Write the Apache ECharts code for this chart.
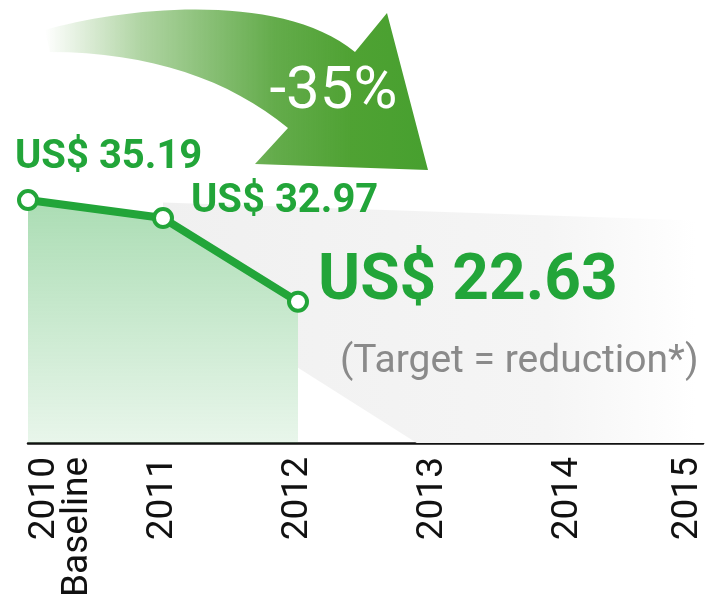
<!DOCTYPE html>
<html>
<head>
<meta charset="utf-8">
<script src="https://cdn.jsdelivr.net/npm/echarts@6/dist/echarts.min.js"></script>
<style>
  html, body { margin: 0; padding: 0; background: #ffffff; }
  #main { width: 712px; height: 596px; }
</style>
</head>
<body>
<div id="main"></div>
<script>
// data
var years = ['2010\nBaseline', '2011', '2012', '2013', '2014', '2015'];
var costs = [35.19, 32.97, 22.63];
var changeText = '-35%';
var targetNote = '(Target = reduction*)';
// grey target wedge, given as (category index, value) pairs
var shadeX = [1, 5.07, 5.07, 2.88, 2, 2, 1];
var shadeY = [34.9, 32.6, 5.2, 5.2, 14.5, 22.63, 32.97];

var green = '#22a539';
var labelLook = [
  { fontSize: 40, offset: [-13, -42] },
  { fontSize: 40, offset: [28, -16] },
  { fontSize: 64, offset: [20, -19] }
];
// the big decorative arrow, in pixels
var arrowPath = 'M45 30 C120 8 280 -10 355 52 L387 13 L428 170 L255 164 L288 128 C230 80 150 52 50 52 Z';

function linear(x2, y2, stops) {
  return { type: 'linear', x: 0, y: 0, x2: x2, y2: y2, colorStops: stops, global: false };
}

var chartDom = document.getElementById('main');
var myChart = echarts.init(chartDom);

var xData = years.map(function (y, i) {
  if (i === 0) {
    return { value: y, textStyle: { verticalAlign: 'top', lineHeight: 33 } };
  }
  if (i === years.length - 1) {
    return { value: y, textStyle: { verticalAlign: 'bottom', lineHeight: 30 } };
  }
  return y;
});

var lineData = costs.map(function (v, i) {
  return {
    value: v,
    label: {
      show: true,
      position: 'inside',
      align: 'left',
      verticalAlign: 'middle',
      formatter: 'US$ ' + v.toFixed(2),
      fontFamily: 'Roboto',
      fontWeight: 'bold',
      fontSize: labelLook[i].fontSize,
      offset: labelLook[i].offset,
      color: green,
      textBorderWidth: 0
    }
  };
});

var option = {
  animation: false,
  grid: { left: 28, right: 9, top: 38, bottom: 153, containLabel: false, outerBoundsMode: 'none' },
  xAxis: {
    type: 'category',
    boundaryGap: false,
    data: xData,
    axisLine: { show: true, lineStyle: { color: '#111', width: 2.5 } },
    axisTick: { show: false },
    splitLine: { show: false },
    axisLabel: {
      interval: 0,
      rotate: 90,
      margin: 14,
      hideOverlap: false,
      fontFamily: 'Roboto',
      fontSize: 37,
      color: '#111'
    }
  },
  yAxis: {
    type: 'value',
    min: 5.2,
    max: 55.2,
    show: false
  },
  graphic: [
    {
      type: 'text',
      z: 60,
      x: 333.5,
      y: 92.5,
      style: {
        text: changeText,
        fontFamily: 'Roboto',
        fontSize: 60,
        fill: '#ffffff',
        align: 'center',
        verticalAlign: 'middle'
      }
    },
    {
      type: 'text',
      z: 60,
      x: 340,
      y: 362,
      style: {
        text: targetNote,
        fontFamily: 'Roboto',
        fontSize: 39,
        fill: '#8a8a8a',
        align: 'left',
        verticalAlign: 'middle'
      }
    }
  ],
  series: [
    {
      // grey target wedge
      type: 'custom',
      z: 1,
      silent: true,
      clip: false,
      data: [0],
      renderItem: function (params, api) {
        var step = api.size([1, 0])[0];
        var x0 = api.coord([0, shadeY[0]])[0];
        var pts = shadeX.map(function (x, i) {
          return [x0 + x * step, api.coord([0, shadeY[i]])[1]];
        });
        return {
          type: 'polygon',
          shape: { points: pts },
          style: {
            fill: linear(1, 0, [
              { offset: 0, color: '#f0f0f0' },
              { offset: 0.7, color: '#f5f5f5' },
              { offset: 0.97, color: '#ffffff' }
            ])
          }
        };
      }
    },
    {
      // arrow
      type: 'custom',
      coordinateSystem: 'none',
      z: 5,
      silent: true,
      data: [0],
      renderItem: function () {
        return {
          type: 'path',
          shape: { pathData: arrowPath },
          style: {
            fill: linear(1, 0, [
              { offset: 0, color: 'rgba(78,160,50,0)' },
              { offset: 0.25, color: 'rgba(78,160,50,0.45)' },
              { offset: 0.6, color: 'rgba(78,160,50,0.88)' },
              { offset: 0.8, color: '#4fa233' },
              { offset: 1, color: '#47a02f' }
            ])
          }
        };
      }
    },
    {
      type: 'line',
      z: 3,
      data: lineData,
      symbol: 'circle',
      symbolSize: 18,
      lineStyle: { color: green, width: 8 },
      itemStyle: { color: '#ffffff', borderColor: green, borderWidth: 4 },
      areaStyle: {
        opacity: 1,
        color: linear(0, 1, [
          { offset: 0, color: 'rgba(34,165,57,0.38)' },
          { offset: 1, color: 'rgba(34,165,57,0.1)' }
        ])
      }
    }
  ]
};

myChart.setOption(option);
</script>
</body>
</html>
